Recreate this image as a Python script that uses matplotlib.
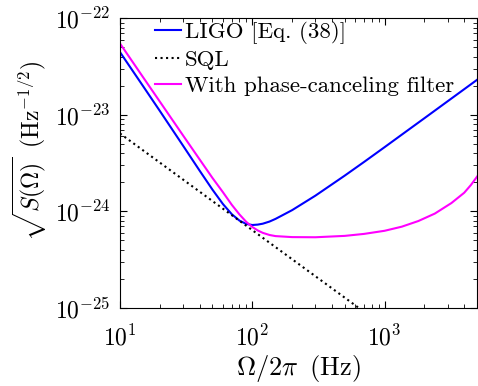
import matplotlib
matplotlib.use('Agg')
import matplotlib.pyplot as plt

plt.rcParams['font.family'] = 'serif'
plt.rcParams['font.serif'] = ['cmr10']
plt.rcParams['mathtext.fontset'] = 'cm'
plt.rcParams['axes.formatter.use_mathtext'] = True
plt.rcParams['axes.unicode_minus'] = False

# LIGO [Eq. (38)]
ligo_freq = [10, 15, 20, 30, 40, 50, 60, 70, 80, 90, 100, 110, 120, 135, 150,
             200, 300, 500, 700, 1000, 1500, 2000, 3000, 4000, 5000]
ligo = [4.45e-23, 1.965e-23, 1.097e-23, 4.78e-24, 2.64e-24, 1.68e-24, 1.192e-24,
        9.35e-25, 8.03e-25, 7.42e-25, 7.23e-25, 7.3e-25, 7.46e-25, 7.85e-25,
        8.37e-25, 1.03e-24, 1.455e-24, 2.346e-24, 3.25e-24, 4.62e-24,
        6.92e-24, 9.21e-24, 1.381e-23, 1.84e-23, 2.3e-23]

# with phase-canceling filter
filt_freq = [10, 15, 20, 30, 40, 50, 60, 70, 80, 90, 100, 110, 120, 135, 150,
             200, 300, 500, 700, 1000, 1350, 1800, 2400, 3200, 4000, 4500, 5000]
filt = [5.47e-23, 2.43e-23, 1.37e-23, 6.1e-24, 3.45e-24, 2.22e-24, 1.58e-24,
        1.17e-24, 9.3e-25, 7.8e-25, 6.9e-25, 6.35e-25, 6.0e-25, 5.7e-25,
        5.55e-25, 5.42e-25, 5.4e-25, 5.58e-25, 5.85e-25, 6.3e-25, 6.95e-25,
        7.95e-25, 9.5e-25, 1.22e-24, 1.56e-24, 1.88e-24, 2.29e-24]

# SQL
sql_freq = [10, 100, 1000, 5000]
sql = [6.4e-24, 6.4e-25, 6.4e-26, 1.28e-26]

fig = plt.figure(figsize=(4.78, 3.86), dpi=100)
ax = fig.add_axes([0.251, 0.202, 0.747, 0.751])

ax.loglog(ligo_freq, ligo, color='#0000ff', lw=1.5, label='LIGO [Eq. (38)]')
ax.loglog(sql_freq, sql, color='black', lw=1.5, linestyle=':', label='SQL')
ax.loglog(filt_freq, filt, color='#ff00ff', lw=1.5, label='With phase-canceling filter')

ax.set_xlim(10, 5000)
ax.set_ylim(1e-25, 1e-22)
ax.set_xlabel(r'$\Omega/2\pi\;\;(\mathrm{Hz})$', fontsize=19, labelpad=2)
ax.set_ylabel(r'$\sqrt{S(\Omega)}\;\;(\mathrm{Hz}^{-1/2})$', fontsize=17)
ax.yaxis.set_label_coords(-0.2, 0.54)
ax.tick_params(which='both', direction='in', top=True, right=True, labelsize=17)
ax.tick_params(which='major', length=5, pad=7)
ax.tick_params(which='minor', length=3)
ax.tick_params(axis='x', which='major', pad=12)

ax.legend(loc='upper left', frameon=False, fontsize=16.5, handlelength=1.15,
          handletextpad=0.15, labelspacing=0.25, borderpad=0, borderaxespad=0,
          bbox_to_anchor=(0.098, 0.99))

fig.savefig('out.png', dpi=100)
